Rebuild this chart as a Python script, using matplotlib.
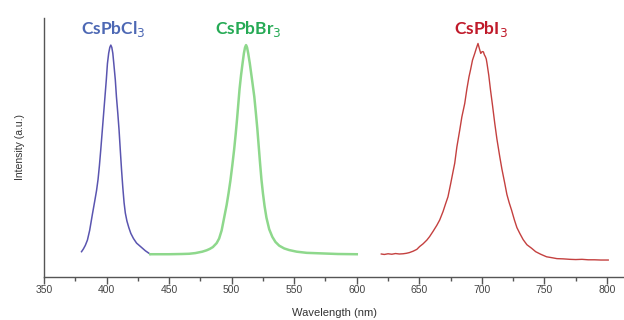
import matplotlib
matplotlib.use("Agg")
import matplotlib.pyplot as plt
from matplotlib.ticker import MultipleLocator

# CsPbCl3 emission
cl_wl = [380, 381.5, 383, 384.7, 386.5, 388.7, 390.5, 392, 393.2, 394.3, 395.4, 396.5, 397.6,
         398.7, 399.8, 400.7, 401.7, 402.6, 403.4, 404.2, 405, 405.8, 407, 407.9, 409, 410,
         411, 412, 413, 414, 415, 416.3, 417.8, 419.4, 421.5, 424, 427.4, 431, 435]
cl_int = [0.108, 0.120, 0.135, 0.158, 0.200, 0.270, 0.325, 0.372, 0.420, 0.480, 0.550, 0.625,
          0.700, 0.775, 0.850, 0.920, 0.965, 0.990, 1.000, 0.990, 0.965, 0.920, 0.850, 0.777,
          0.705, 0.633, 0.545, 0.460, 0.385, 0.320, 0.275, 0.240, 0.212, 0.187, 0.165, 0.145,
          0.129, 0.112, 0.097]

# CsPbBr3 emission
br_wl = [435, 450, 460, 466, 471, 476.5, 480, 482.5, 485, 488, 490, 492, 494, 496, 497.5,
         499, 500.5, 502, 503.2, 504.3, 505.3, 506.3, 507.5, 508.8, 509.8, 510.7, 511.5, 512.3,
         513.2, 514.5, 516.3, 518.1, 519.3, 520.5, 521.6, 522.7, 523.8, 525, 526.3, 527.8, 530,
         532.5, 535, 538, 542, 546, 552, 560, 570, 585, 600]
br_int = [0.097, 0.097, 0.098, 0.099, 0.102, 0.108, 0.114, 0.120, 0.128, 0.145, 0.165, 0.200,
          0.255, 0.310, 0.360, 0.415, 0.480, 0.550, 0.615, 0.680, 0.745, 0.810, 0.870, 0.925,
          0.965, 0.990, 1.000, 0.990, 0.965, 0.921, 0.850, 0.777, 0.710, 0.640, 0.565, 0.490,
          0.420, 0.360, 0.305, 0.255, 0.205, 0.172, 0.150, 0.134, 0.122, 0.115, 0.108, 0.103,
          0.101, 0.098, 0.097]

# CsPbI3 emission
i_wl = [619.6, 622, 625, 628, 631, 634, 637, 639.6, 642, 645, 648, 650.2, 653, 656, 658.2,
        661, 664, 666.3, 669, 671, 672.9, 675, 677, 678.3, 680, 682.3, 684, 686.3, 688,
        689.7, 691, 692.5, 694.3, 695.5, 696.9, 698, 699.1, 700.2, 701.2, 702, 702.8, 703.5,
        704.1, 705.5, 706.9, 708.5, 710.3, 712, 714.3, 716, 718.3, 720, 721.8, 723.7, 726,
        728, 730.3, 733, 736, 739.7, 743, 747, 751.7, 756, 760, 765, 770.3, 775, 780, 785,
        790, 795, 801]
i_int = [0.098, 0.096, 0.099, 0.097, 0.100, 0.098, 0.099, 0.101, 0.104, 0.110, 0.118, 0.130,
         0.142, 0.158, 0.173, 0.196, 0.222, 0.245, 0.282, 0.315, 0.345, 0.400, 0.455, 0.490,
         0.560, 0.633, 0.690, 0.748, 0.810, 0.863, 0.895, 0.935, 0.964, 0.985, 1.007, 0.985,
         0.964, 0.972, 0.971, 0.958, 0.950, 0.940, 0.921, 0.870, 0.806, 0.740, 0.662, 0.595,
         0.518, 0.465, 0.403, 0.355, 0.320, 0.288, 0.245, 0.212, 0.187, 0.160, 0.138, 0.123,
         0.108, 0.097, 0.086, 0.082, 0.078, 0.077, 0.075, 0.074, 0.075, 0.073, 0.073, 0.072,
         0.072]

labels = ["CsPbCl$_3$", "CsPbBr$_3$", "CsPbI$_3$"]
label_x = [405, 513, 699]

fig = plt.figure(figsize=(6.24, 3.2), dpi=100)
ax = fig.add_axes([44 / 624, (320 - 276.7) / 320, 1 - 44 / 624, (276.7 - 18) / 320])

ax.plot(cl_wl, cl_int, color="#5a55b0", lw=1.1, solid_joinstyle="round")
ax.plot(br_wl, br_int, color="#8ed88c", lw=1.8, solid_joinstyle="round")
ax.plot(i_wl, i_int, color="#c4403f", lw=1.0)

colors = ["#4d68b4", "#26aa55", "#c01a2a"]
for lab, lx, c in zip(labels, label_x, colors):
    ax.text(lx, 1.07, lab, color=c, ha="center", va="center", fontsize=12.5,
            fontweight="bold", family="Lato")

ax.set_xlim(350, 813.6)
ax.set_ylim(0, 1.117)
ax.xaxis.set_major_locator(MultipleLocator(50))
ax.xaxis.set_minor_locator(MultipleLocator(25))
ax.set_yticks([])
for s in ["top", "right"]:
    ax.spines[s].set_visible(False)
for s in ["left", "bottom"]:
    ax.spines[s].set_color("#555555")
    ax.spines[s].set_linewidth(1.0)
ax.tick_params(axis="x", which="major", length=5, width=1, color="#555555",
               labelsize=7.5, labelcolor="#444444", pad=1)
ax.tick_params(axis="x", which="minor", length=3, width=1, color="#555555")
for t in ax.get_xticklabels():
    t.set_family("Liberation Sans")
ax.set_xlabel("Wavelength (nm)", fontsize=8, color="#333333", family="Liberation Sans",
              labelpad=9)
ax.set_ylabel("Intensity (a.u.)", fontsize=7.5, color="#333333", family="Liberation Sans",
              labelpad=14)

fig.savefig("out.png", dpi=100)
